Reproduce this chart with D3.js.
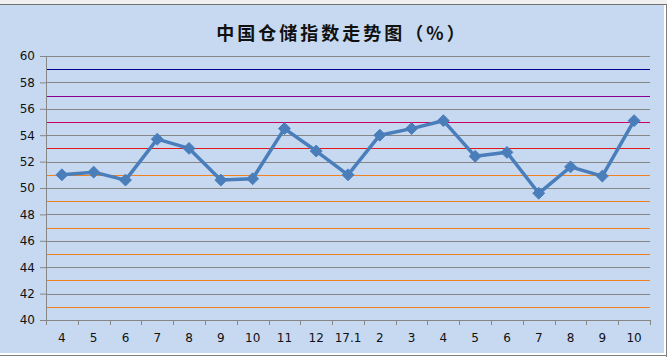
<!DOCTYPE html>
<html>
<head>
<meta charset="utf-8">
<script src="https://cdn.jsdelivr.net/npm/d3@7"></script>
<style>
  body { margin: 0; background: #ffffff; }
  svg { display: block; }
</style>
</head>
<body>
<svg id="chart"></svg>
<script>
// x categories (months) and the index values
const months = ["4", "5", "6", "7", "8", "9", "10", "11", "12", "17.1", "2", "3", "4", "5", "6", "7", "8", "9", "10"];
const values = [51.0, 51.2, 50.6, 53.7, 53.0, 50.6, 50.7, 54.5, 52.8, 51.0, 54.0, 54.5, 55.1, 52.4, 52.7, 49.6, 51.6, 50.9, 55.1];
const yTicks = [40, 42, 44, 46, 48, 50, 52, 54, 56, 58, 60];
// coloured reference lines at the odd values
const refLevels = [59, 57, 55, 53, 51, 49, 47, 45, 43, 41];
const refColors = ["#000090", "#8a0090", "#cc0060", "#e01818", "#f08020", "#f08020", "#f08020", "#f08020", "#f08020", "#f08020"];

const width = 667, height = 357;
const margin = { top: 56, right: 17, bottom: 37, left: 46 };
const w = width - margin.left - margin.right;
const h = height - margin.top - margin.bottom;

const svg = d3.select("#chart").attr("width", width).attr("height", height);

// frame
svg.append("rect").attr("x", 0).attr("y", 0).attr("width", width).attr("height", 4).attr("fill", "#f0f0f0");
svg.append("line").attr("x1", 0).attr("x2", width).attr("y1", 4.5).attr("y2", 4.5).attr("stroke", "#707070");
svg.append("rect").attr("x", 0).attr("y", 5).attr("width", 664).attr("height", 348).attr("fill", "#c6d9f1");
svg.append("line").attr("x1", 666.5).attr("x2", 666.5).attr("y1", 5).attr("y2", height).attr("stroke", "#808080");
svg.append("line").attr("x1", 0).attr("x2", width).attr("y1", 355.5).attr("y2", 355.5).attr("stroke", "#808080");

svg.append("text")
    .attr("x", 342).attr("y", 40)
    .attr("text-anchor", "middle")
    .attr("font-family", "'Noto Sans CJK SC'")
    .attr("font-weight", "bold")
    .attr("font-size", 18)
    .attr("letter-spacing", 3)
    .attr("fill", "#111")
    .text("中国仓储指数走势图（%）");

const g = svg.append("g").attr("transform", `translate(${margin.left}, ${margin.top})`);

const x = d3.scaleBand().domain(d3.range(months.length)).range([0, w]);
const y = d3.scaleLinear().domain([40, 60]).range([h, 0]);

// gray gridlines
g.selectAll("line.grid").data(yTicks.slice(1))
    .join("line")
    .attr("class", "grid")
    .attr("x1", 0).attr("x2", w)
    .attr("y1", d => Math.round(y(d)) + 0.5).attr("y2", d => Math.round(y(d)) + 0.5)
    .attr("stroke", "#868686");

// coloured reference lines
g.selectAll("line.ref").data(refLevels)
    .join("line")
    .attr("class", "ref")
    .attr("x1", 0).attr("x2", w)
    .attr("y1", d => Math.round(y(d)) + 0.5).attr("y2", d => Math.round(y(d)) + 0.5)
    .attr("stroke", (d, i) => refColors[i])
    .attr("stroke-width", 1.2);

// axes
const yAxis = g.append("g")
    .call(d3.axisLeft(y).tickValues(yTicks).tickSize(6).tickPadding(5).tickFormat(d3.format("d")));
const xAxis = g.append("g").attr("transform", `translate(0, ${h})`)
    .call(d3.axisBottom(x).tickSize(0).tickPadding(13).tickFormat(i => months[i]));

// x tick marks at category boundaries
xAxis.selectAll("line.bound").data(d3.range(months.length + 1))
    .join("line")
    .attr("class", "bound")
    .attr("x1", i => Math.round(i * x.step()) + 0.5).attr("x2", i => Math.round(i * x.step()) + 0.5)
    .attr("y1", 0).attr("y2", 5)
    .attr("stroke", "#868686");

[yAxis, xAxis].forEach(a => {
    a.select(".domain").attr("stroke", "#868686");
    a.selectAll(".tick line").attr("stroke", "#868686");
    a.selectAll("text").attr("font-family", "'DejaVu Sans'").attr("font-size", 12).attr("fill", "#111");
});
yAxis.select(".domain").attr("d", `M-6,${h + 0.5}H0.5V0.5H-6`);
xAxis.select(".domain").attr("d", `M0.5,0.5H${w + 0.5}`);

const cx = i => x(i) + x.bandwidth() / 2;

g.append("path")
    .datum(values)
    .attr("fill", "none")
    .attr("stroke", "#4a7ebb")
    .attr("stroke-width", 3.5)
    .attr("stroke-linejoin", "round")
    .attr("d", d3.line().x((d, i) => cx(i)).y(d => y(d)));

g.selectAll("path.marker").data(values)
    .join("path")
    .attr("class", "marker")
    .attr("transform", (d, i) => `translate(${cx(i)}, ${y(d)})`)
    .attr("d", d3.symbol(d3.symbolDiamond2, 90)())
    .attr("fill", "#4a7ebb")
    .attr("stroke", "#4a7ebb");
</script>
</body>
</html>
